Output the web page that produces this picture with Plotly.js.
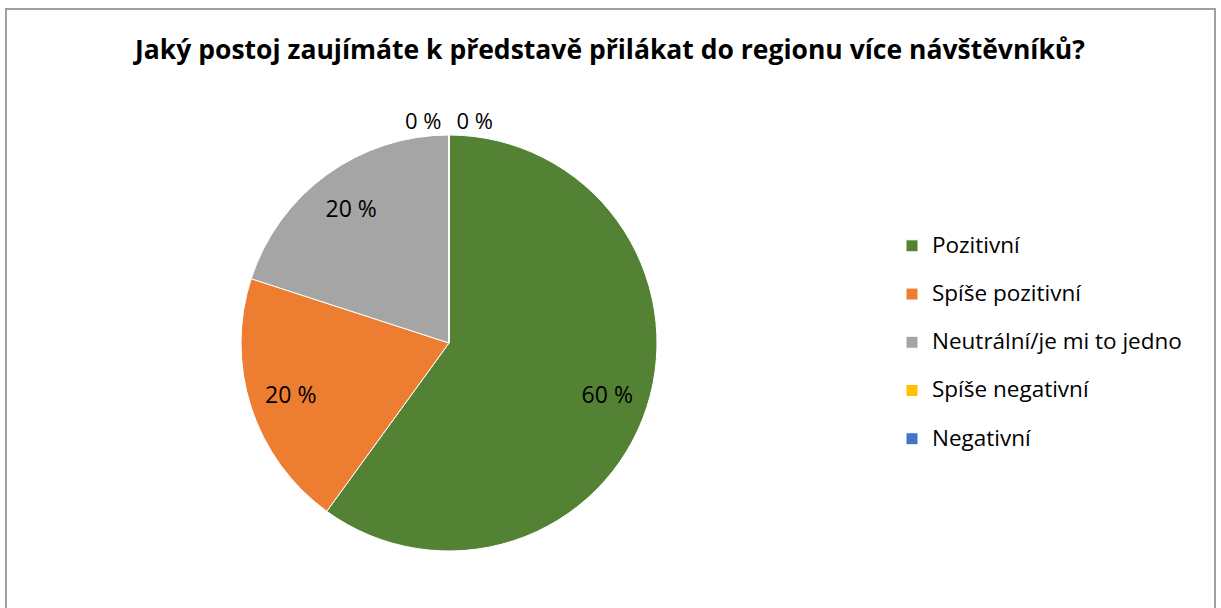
<!DOCTYPE html>
<html>
<head>
<meta charset="utf-8">
<script src="https://cdn.plot.ly/plotly-3.0.1.min.js"></script>
<style>html,body{margin:0;padding:0;background:#fff;}#chart{width:1221px;height:608px;}</style>
</head>
<body>
<div id="chart"></div>
<script>
const categories = ["Pozitivní", "Spíše pozitivní", "Neutrální/je mi to jedno", "Spíše negativní", "Negativní"];
const values = [60, 20, 20, 0, 0];
const valueLabels = ["60 %", "20 %", "20 %", "0 %", "0 %"];
const colors = ["#548235", "#ED7D31", "#A5A5A5", "#FFC000", "#4472C4"];
const chartTitle = "Jaký postoj zaujímáte k představě přilákat do regionu více návštěvníků?";

const W = 1221, H = 608;
const cx = 449, cy = 343, R = 208;
const FONT = "'Open Sans', 'Noto Sans', sans-serif";
const domain = { x: [(cx - R) / W, (cx + R) / W], y: [(H - cy - R) / H, (H - cy + R) / H] };
const legendLabels = categories.map(c => "<span style='font-size:22.5px'>" + c + "</span><br> ");

// Filled pie (slices + legend), clockwise from 12 o'clock.
// Carries the first zero-value label (ends up just left of the top).
const zeroIdx = values.map((v, i) => v === 0 ? i : -1).filter(i => i >= 0);
const pieTrace = {
  type: "pie",
  labels: legendLabels,
  values: values,
  text: valueLabels,
  textinfo: "text",
  textposition: values.map((v, i) => i === zeroIdx[0] ? "outside" : "none"),
  sort: false,
  direction: "clockwise",
  rotation: 0,
  marker: { colors: colors, line: { color: "#ffffff", width: 1 } },
  outsidetextfont: { family: FONT, size: 22, color: "#000000" },
  domain: domain,
  hoverinfo: "label+percent",
  showlegend: true
};

// Transparent ring (same slices, drawn counter-clockwise in reverse order)
// carrying the data labels at ~80% of the radius, plus the other zero label.
const rev = a => a.slice().reverse();
const labelTrace = {
  type: "pie",
  labels: rev(legendLabels),
  values: rev(values),
  text: rev(valueLabels),
  textinfo: "text",
  textposition: rev(values.map((v, i) => v === 0 ? (i === zeroIdx[0] ? "none" : "outside") : "inside")),
  insidetextorientation: "horizontal",
  hole: 0.6,
  sort: false,
  direction: "counterclockwise",
  rotation: 0,
  marker: { colors: colors.map(() => "rgba(0,0,0,0)"), line: { width: 0 } },
  textfont: { family: FONT, size: 23, color: "#000000" },
  insidetextfont: { family: FONT, size: 23, color: "#000000" },
  outsidetextfont: { family: FONT, size: 22, color: "#000000" },
  domain: domain,
  hoverinfo: "skip",
  showlegend: false
};

const layout = {
  width: W, height: H,
  margin: { l: 0, r: 0, t: 0, b: 0 },
  paper_bgcolor: "#ffffff",
  title: {
    text: "<b>" + chartTitle + "</b>",
    font: { family: FONT, size: 26.5, color: "#000000" },
    x: 610 / W, xanchor: "center", y: 1 - 50 / H, yanchor: "middle"
  },
  legend: {
    x: 892 / W, xanchor: "left", y: 1 - 228 / H, yanchor: "top",
    font: { family: FONT, size: 17.4, color: "#000000" },
    valign: "top",
    itemwidth: 30,
    bgcolor: "rgba(0,0,0,0)"
  },
  shapes: [{
    type: "rect", xref: "paper", yref: "paper",
    x0: 6 / W, x1: 1215 / W, y0: -0.05, y1: 1 - 9 / H,
    line: { color: "#a0a0a0", width: 2 }, fillcolor: "rgba(0,0,0,0)", layer: "below"
  }]
};

Plotly.newPlot("chart", [pieTrace, labelTrace], layout, { displayModeBar: false, staticPlot: true });
</script>
</body>
</html>
